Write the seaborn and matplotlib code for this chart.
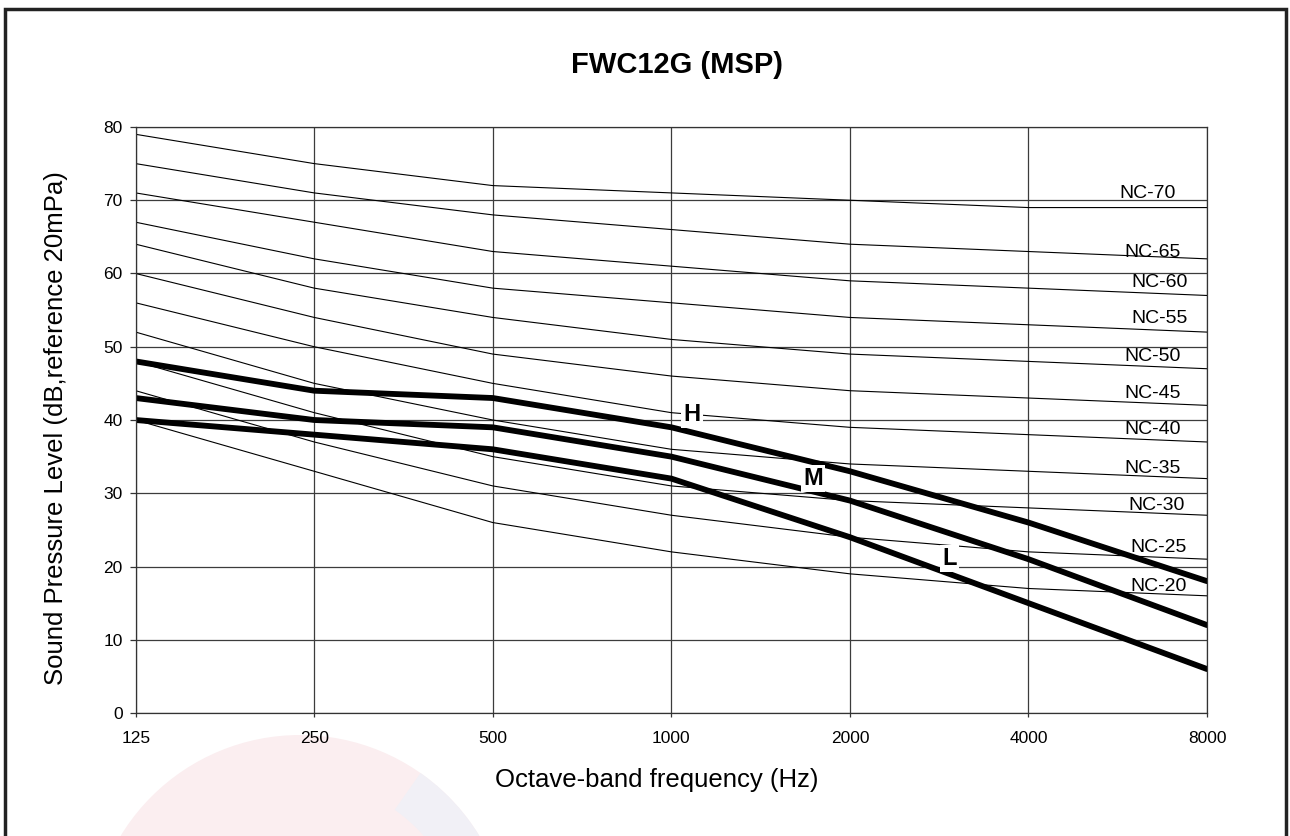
import pandas as pd
import matplotlib.pyplot as plt
from matplotlib.patches import Rectangle, Circle, Wedge
import seaborn as sns

# octave band centres and NC reference curves (dB)
freqs = [125, 250, 500, 1000, 2000, 4000, 8000]
freq_labels = ['125', '250', '500', '1000', '2000', '4000', '8000']
nc_names = ['NC-70', 'NC-65', 'NC-60', 'NC-55', 'NC-50', 'NC-45',
            'NC-40', 'NC-35', 'NC-30', 'NC-25', 'NC-20']
nc_70 = [79, 75, 72, 71, 70, 69, 69]
nc_65 = [75, 71, 68, 66, 64, 63, 62]
nc_60 = [71, 67, 63, 61, 59, 58, 57]
nc_55 = [67, 62, 58, 56, 54, 53, 52]
nc_50 = [64, 58, 54, 51, 49, 48, 47]
nc_45 = [60, 54, 49, 46, 44, 43, 42]
nc_40 = [56, 50, 45, 41, 39, 38, 37]
nc_35 = [52, 45, 40, 36, 34, 33, 32]
nc_30 = [48, 41, 35, 31, 29, 28, 27]
nc_25 = [44, 37, 31, 27, 24, 22, 21]
nc_20 = [40, 33, 26, 22, 19, 17, 16]

# fan speed curves
speed_names = ['H', 'M', 'L']
spl_h = [48, 44, 43, 39, 33, 26, 18]
spl_m = [43, 40, 39, 35, 29, 21, 12]
spl_l = [40, 38, 36, 32, 24, 15, 6]

# label anchor points (data coords)
nc_label_x = [7094, 7236, 7431, 7431, 7236, 7236, 7236, 7236, 7340, 7385, 7385]
nc_label_y = [70.3, 62.25, 58.2, 53.2, 48.05, 43.0, 38.1, 32.8, 27.7, 22.0, 16.7]
speed_label_x = [1083, 1732, 2947]
speed_label_y = [39.9, 31.1, 20.2]

nc_values = [nc_70, nc_65, nc_60, nc_55, nc_50, nc_45, nc_40, nc_35, nc_30, nc_25, nc_20]
nc_df = pd.DataFrame([
    {'curve': n, 'freq': f, 'level': v}
    for n, vals in zip(nc_names, nc_values) for f, v in zip(freqs, vals)
])
fan_df = pd.DataFrame([
    {'speed': n, 'freq': f, 'level': v}
    for n, vals in zip(speed_names, [spl_h, spl_m, spl_l]) for f, v in zip(freqs, vals)
])

sns.set_style('white')
plt.rcParams['font.family'] = ['Liberation Sans', 'DejaVu Sans']
plt.rcParams['text.color'] = 'black'
plt.rcParams['xtick.color'] = 'black'
plt.rcParams['ytick.color'] = 'black'

fig = plt.figure(figsize=(12.9, 8.36), dpi=100)
ax = fig.add_axes([0.1052, 0.1471, 0.8305, 0.7010])

# faint logo watermark (inches from bottom-left) + outer frame
wm = (3.0, -1.09)
fig.patches.append(Circle(wm, 2.1, transform=fig.dpi_scale_trans,
                          facecolor='#fbeef0', edgecolor='none', zorder=-5))
fig.patches.append(Wedge(wm, 2.1, -10, 55, width=0.45, transform=fig.dpi_scale_trans,
                         facecolor='#f1f0f6', edgecolor='none', zorder=-4))
fig.patches.append(Rectangle((5 / 1290, -0.05), 1281 / 1290, 1.05 - 9 / 836,
                             transform=fig.transFigure, fill=False, edgecolor='#222222',
                             lw=2.5, zorder=10))

sns.lineplot(data=nc_df, x='freq', y='level', units='curve', estimator=None,
             color='black', lw=0.8, ax=ax, legend=False)
sns.lineplot(data=fan_df, x='freq', y='level', units='speed', estimator=None,
             color='black', lw=4.2, ax=ax, legend=False,
             solid_capstyle='round', solid_joinstyle='round')

ax.set_xscale('log', base=2)
ax.set_xlim(125, 8000)
ax.set_ylim(0, 80)
ax.set_xticks(freqs)
ax.set_xticklabels(freq_labels)
ax.minorticks_off()
ax.set_yticks(range(0, 81, 10))
ax.grid(True, color='#3c3c3c', lw=0.9)
ax.tick_params(axis='y', direction='out', length=4.5, width=0.9, color='#333333',
               labelsize=12.5, pad=5, left=True)
ax.tick_params(axis='x', direction='out', length=3, width=0.9, color='#333333',
               labelsize=12.5, pad=10, bottom=True)
for s in ax.spines.values():
    s.set_color('#333333')
    s.set_linewidth(0.9)
ax.set_xlabel('')
ax.set_ylabel('')

for name, x, y in zip(nc_names, nc_label_x, nc_label_y):
    ax.text(x, y, name, ha='right', va='baseline', fontsize=14, zorder=5)

for name, x, y in zip(speed_names, speed_label_x, speed_label_y):
    ax.text(x, y, name, ha='center', va='baseline', fontsize=17, fontweight='bold', zorder=6,
            bbox=dict(facecolor='white', edgecolor='none', pad=1.5))

fig.text(677 / 1290, 1 - 65 / 836, 'FWC12G (MSP)', ha='center', va='center',
         fontsize=21, fontweight='bold')
fig.text(657 / 1290, 1 - 780 / 836, 'Octave-band frequency (Hz)', ha='center', va='center',
         fontsize=18.5)
fig.text(56 / 1290, 1 - 428 / 836, 'Sound Pressure Level (dB,reference 20mPa)', ha='center',
         va='center', rotation=90, fontsize=18.5)

fig.savefig('out.png', dpi=100)
